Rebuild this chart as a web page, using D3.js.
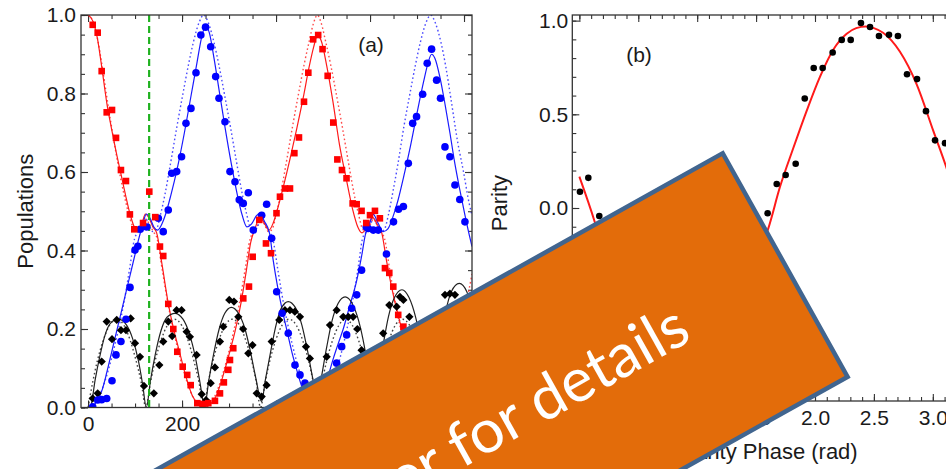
<!DOCTYPE html>
<html>
<head>
<meta charset="utf-8">
<script src="https://cdn.jsdelivr.net/npm/d3@7"></script>
<style>
  html, body { margin: 0; padding: 0; background: #ffffff; }
  svg { display: block; }
</style>
</head>
<body>
<svg id="chart" width="946" height="469"></svg>
<script>
// ---------------- Panel (a): populations vs time ----------------
const timeTicks = [0, 200, 400, 600, 800];
const popTicks = [0, 0.2, 0.4, 0.6, 0.8, 1.0];
const markerTime = 130;

// measured populations [time, value]
const redPts = [[9.9,0.975],[20.5,0.955],[29,0.857],[39.7,0.752],[51,0.758],[59.5,0.687],[70,0.605],[80.7,0.577],[89,0.492],[98.4,0.454],[117,0.47],[130.3,0.55],[143,0.485],[153,0.41],[160,0.386],[170.7,0.264],[181.4,0.2],[189.9,0.142],[201.4,0.104],[211,0.083],[218.4,0.057],[232.5,0.011],[243.9,0.009],[255.9,0.011],[270,0.017],[280.7,0.036],[289,0.064],[298.4,0.096],[302,0.121],[309,0.151],[330.3,0.278],[342.4,0.308],[350.3,0.384],[364.4,0.478],[378.6,0.418],[389.3,0.393],[401,0.495],[408.4,0.537],[419,0.558],[429.7,0.558],[439,0.648],[448.8,0.688],[459.5,0.779],[468.7,0.853],[479,0.938],[489.7,0.949],[499,0.913],[509.9,0.845],[521.8,0.726],[530.5,0.632],[540.3,0.605],[550,0.584],[563,0.52],[571.6,0.518],[582,0.501],[592,0.47],[600,0.49],[610.5,0.501],[621,0.482],[631.8,0.355],[641,0.343],[649.5,0.308],[660,0.236],[671,0.206],[681,0.17],[692,0.12],[702,0.08],[713,0.05],[723,0.02],[734,0.01],[744,0.005],[755,0.01],[765,0.03],[776,0.06],[786,0.09],[797,0.13],[807,0.17]];
const bluePts = [[9.9,0.002],[20.5,0.019],[29,0.02],[39.7,0.023],[51,0.068],[59.5,0.134],[70,0.168],[80.7,0.225],[89.3,0.306],[99.9,0.401],[106,0.411],[111,0.454],[124.7,0.46],[149.5,0.482],[160,0.448],[170.7,0.503],[178,0.597],[188.6,0.601],[199,0.639],[208.4,0.724],[219,0.762],[229.7,0.853],[240,0.949],[250,0.969],[261,0.919],[271.6,0.843],[278.6,0.788],[291.4,0.728],[302,0.601],[312.7,0.575],[321.8,0.529],[330.3,0.52],[341,0.547],[351.6,0.452],[369.5,0.49],[380,0.518],[390.7,0.431],[401.4,0.295],[413,0.24],[426,0.189],[440.3,0.108],[451,0.083],[461.6,0.062],[472,0.03],[483,0.01],[494,0.02],[505,0.05],[516,0.08],[529,0.113],[539.7,0.155],[550.3,0.185],[561,0.253],[571.6,0.287],[582,0.35],[592,0.46],[596,0.456],[607,0.452],[617.6,0.452],[635,0.391],[650,0.473],[660.6,0.505],[671,0.512],[681.5,0.622],[690.8,0.724],[699,0.741],[712,0.798],[721.7,0.877],[731,0.913],[741.7,0.834],[750,0.788],[759.5,0.664],[770,0.639],[780.7,0.567],[791,0.53],[802,0.473]];
const blackPts = [[9.9,0.023],[20.5,0.036],[29,0.117],[39.7,0.219],[51,0.174],[61,0.223],[70,0.197],[80.7,0.197],[90.7,0.227],[99.9,0.164],[110.5,0.129],[119,0.055],[140,0.036],[151.7,0.108],[160,0.168],[170.7,0.219],[179,0.182],[188.4,0.248],[199,0.248],[209.7,0.193],[216.8,0.18],[231,0.134],[241.8,0.034],[251,0.019],[261,0.062],[270,0.102],[280.7,0.168],[287.8,0.206],[300.5,0.274],[310.5,0.27],[319.7,0.231],[330,0.2],[341,0.138],[350,0.159],[358.8,0.036],[369.5,0.028],[380,0.057],[390.7,0.168],[406.9,0.223],[419,0.248],[429.6,0.248],[440,0.244],[451,0.231],[463.7,0.155],[472,0.125],[483,0.05],[495,0.06],[507.8,0.129],[514.8,0.21],[529,0.248],[543,0.231],[553.8,0.231],[564,0.231],[573,0.2],[582,0.146],[593,0.08],[605,0.03],[617,0.1],[628,0.189],[641,0.261],[656.7,0.257],[663.7,0.282],[671,0.274],[683.7,0.231],[695,0.17],[707,0.1],[719,0.04],[730,0.03],[740,0.1],[750,0.2],[759.5,0.287],[770,0.29],[780.7,0.287],[795,0.27],[806,0.2]];

// fitted model (solid)
const redFit = [[0,1.0],[10,0.985],[20,0.94],[30,0.86],[40,0.775],[50,0.71],[60,0.65],[70,0.595],[80,0.54],[90,0.49],[100,0.457],[108,0.452],[115,0.47],[122,0.493],[130,0.482],[138,0.46],[146,0.445],[158,0.36],[170,0.27],[182,0.2],[195,0.14],[208,0.08],[222,0.03],[235,0.008],[248,0.0],[260,0.008],[273,0.03],[287,0.08],[300,0.135],[313,0.195],[326,0.27],[337,0.35],[346,0.42],[355,0.455],[366,0.485],[376,0.468],[385,0.452],[394,0.47],[403,0.505],[415,0.56],[430,0.635],[444,0.71],[458,0.79],[470,0.865],[480,0.918],[488,0.948],[496,0.935],[508,0.87],[521,0.78],[535,0.67],[549,0.585],[563,0.505],[574,0.46],[583,0.445],[594,0.46],[606,0.484],[616,0.465],[625,0.445],[635,0.375],[648,0.295],[662,0.225],[676,0.16],[690,0.1],[705,0.05],[720,0.02],[735,0.004],[746,0.0],[758,0.008],[772,0.035],[787,0.085],[802,0.145],[817,0.21]];
const blueFit = [[0,0.0],[10,0.004],[20,0.018],[30,0.045],[40,0.09],[50,0.14],[60,0.19],[70,0.24],[80,0.29],[90,0.34],[100,0.39],[108,0.43],[116,0.465],[124,0.493],[132,0.482],[140,0.46],[148,0.452],[158,0.47],[167,0.5],[176,0.54],[190,0.61],[205,0.7],[220,0.8],[232,0.88],[242,0.945],[250,0.972],[258,0.955],[268,0.89],[280,0.8],[292,0.71],[305,0.62],[318,0.54],[328,0.49],[338,0.46],[348,0.468],[358,0.488],[366,0.495],[375,0.475],[386,0.445],[394,0.375],[403,0.31],[413,0.25],[423,0.197],[434,0.14],[444,0.096],[453,0.06],[462,0.03],[472,0.01],[480,0.003],[490,0.008],[500,0.03],[510,0.075],[522,0.125],[533,0.165],[543,0.2],[557,0.26],[571,0.32],[582,0.385],[590,0.44],[598,0.465],[607,0.492],[617,0.47],[628,0.448],[638,0.455],[650,0.49],[660,0.53],[672,0.59],[685,0.66],[700,0.75],[714,0.83],[724,0.88],[731,0.9],[738,0.89],[749,0.84],[760,0.77],[770,0.7],[780,0.625],[791,0.555],[802,0.49],[813,0.43],[817,0.41]];
const blackFit = [[0,0],[6,0.005],[15,0.07],[25,0.13],[35,0.18],[48,0.215],[65,0.225],[82,0.21],[95,0.175],[107,0.12],[116,0.06],[124,0.0],[133,0.07],[143,0.135],[155,0.195],[168,0.23],[185,0.24],[202,0.225],[215,0.19],[228,0.13],[238,0.065],[248,0.003],[257,0.07],[267,0.135],[279,0.2],[291,0.24],[305,0.255],[320,0.24],[334,0.2],[346,0.14],[357,0.075],[369,0.015],[378,0.075],[389,0.145],[400,0.21],[412,0.255],[426,0.27],[441,0.255],[455,0.21],[467,0.145],[478,0.075],[488,0.02],[497,0.08],[508,0.155],[519,0.22],[532,0.265],[547,0.282],[562,0.265],[576,0.22],[588,0.155],[598,0.08],[608,0.025],[617,0.085],[628,0.16],[639,0.23],[652,0.28],[668,0.3],[683,0.28],[697,0.23],[709,0.16],[719,0.085],[729,0.03],[738,0.09],[749,0.17],[760,0.24],[773,0.295],[790,0.316],[806,0.295],[817,0.25]];

// ideal model (dotted)
const redIdeal = [[0,1.0],[10,0.985],[20,0.94],[30,0.87],[40,0.79],[50,0.715],[60,0.645],[70,0.58],[80,0.525],[90,0.478],[100,0.452],[108,0.448],[115,0.462],[123,0.48],[131,0.465],[139,0.448],[147,0.43],[158,0.35],[170,0.265],[182,0.195],[195,0.13],[208,0.075],[221,0.032],[234,0.008],[246,0.0],[258,0.008],[271,0.032],[284,0.075],[297,0.13],[310,0.195],[322,0.265],[334,0.35],[345,0.43],[353,0.448],[361,0.465],[369,0.48],[377,0.462],[384,0.448],[392,0.455],[400,0.49],[410,0.545],[422,0.625],[435,0.715],[448,0.8],[460,0.875],[470,0.93],[480,0.98],[488,1.0],[496,0.98],[506,0.93],[516,0.875],[528,0.8],[541,0.715],[554,0.625],[566,0.545],[576,0.49],[584,0.455],[592,0.448],[599,0.462],[607,0.48],[615,0.465],[623,0.448],[631,0.43],[642,0.35],[654,0.265],[666,0.195],[679,0.13],[692,0.075],[705,0.032],[718,0.008],[729,0.0],[741,0.008],[754,0.032],[767,0.075],[780,0.13],[793,0.195],[805,0.265],[817,0.34]];
const blueIdeal = [[0,0.0],[12,0.008],[25,0.032],[38,0.075],[51,0.13],[64,0.195],[76,0.265],[88,0.35],[99,0.43],[107,0.448],[115,0.465],[123,0.48],[131,0.462],[138,0.448],[146,0.455],[154,0.49],[164,0.545],[176,0.625],[189,0.715],[202,0.8],[214,0.875],[224,0.93],[236,0.98],[246,1.0],[256,0.98],[268,0.93],[278,0.875],[290,0.8],[303,0.715],[316,0.625],[328,0.545],[338,0.49],[346,0.455],[354,0.448],[361,0.462],[369,0.48],[377,0.465],[385,0.448],[393,0.43],[404,0.35],[416,0.265],[428,0.195],[441,0.13],[454,0.075],[467,0.032],[478,0.008],[488,0.0],[499,0.008],[511,0.032],[524,0.075],[537,0.13],[550,0.195],[562,0.265],[574,0.35],[584,0.43],[592,0.448],[600,0.465],[608,0.48],[616,0.462],[623,0.448],[631,0.455],[639,0.49],[648,0.545],[660,0.625],[672,0.715],[685,0.8],[697,0.875],[707,0.93],[719,0.98],[729,1.0],[739,0.98],[751,0.93],[761,0.87],[773,0.78],[786,0.68],[799,0.6],[811,0.52],[817,0.49]];
const blackIdeal = [[0,0],[10,0.065],[20,0.12],[32,0.17],[46,0.21],[61,0.225],[76,0.21],[90,0.17],[102,0.12],[113,0.065],[123,0],[133,0.065],[143,0.12],[155,0.17],[169,0.21],[184,0.225],[199,0.21],[213,0.17],[225,0.12],[236,0.065],[246,0],[256,0.065],[266,0.12],[278,0.17],[292,0.21],[307,0.225],[322,0.21],[336,0.17],[348,0.12],[358,0.065],[367,0],[377,0.065],[387,0.12],[399,0.17],[413,0.21],[428,0.225],[443,0.21],[457,0.17],[469,0.12],[479,0.065],[488,0],[498,0.065],[508,0.12],[520,0.17],[534,0.21],[548,0.225],[562,0.21],[576,0.17],[588,0.12],[598,0.065],[608,0],[618,0.065],[628,0.12],[640,0.17],[654,0.21],[669,0.225],[684,0.21],[698,0.17],[710,0.12],[720,0.065],[729,0],[739,0.065],[749,0.12],[761,0.17],[775,0.21],[790,0.225],[805,0.21],[817,0.175]];

// ---------------- Panel (b): parity vs phase ----------------
const phaseTicks = [0, 0.5, 1.0, 1.5, 2.0, 2.5, 3.0];
const parityTicks = [-1.0, -0.5, 0.0, 0.5, 1.0];
const parityPts = [[0.005,0.087],[0.076,0.161],[0.169,-0.043],[0.247,-0.3],[0.326,-0.47],[0.404,-0.58],[0.483,-0.72],[0.561,-0.83],[0.64,-0.9],[0.718,-0.93],[0.797,-0.99],[0.875,-0.95],[0.954,-0.97],[1.032,-0.9],[1.111,-0.83],[1.189,-0.73],[1.268,-0.6],[1.346,-0.47],[1.425,-0.33],[1.503,-0.2],[1.598,-0.028],[1.675,0.128],[1.751,0.176],[1.836,0.236],[1.913,0.584],[1.989,0.747],[2.065,0.747],[2.15,0.83],[2.227,0.897],[2.303,0.897],[2.39,0.987],[2.467,0.966],[2.543,0.918],[2.628,0.924],[2.704,0.918],[2.781,0.714],[2.866,0.688],[2.942,0.517],[3.019,0.361],[3.104,0.346]];
const parityFit = [[0,0.167],[0.13,-0.073],[0.3,-0.45],[0.5,-0.78],[0.7,-0.94],[0.87,-0.968],[1.05,-0.9],[1.25,-0.68],[1.45,-0.33],[1.603,-0.11],[1.703,0.113],[1.816,0.32],[1.93,0.52],[2.042,0.7],[2.155,0.845],[2.269,0.93],[2.35,0.96],[2.43,0.968],[2.5,0.96],[2.578,0.935],[2.72,0.835],[2.863,0.66],[3.005,0.41],[3.113,0.22],[3.2,0.05]];

const bannerText = "See paper for details";

// ---------------- drawing ----------------
const svg = d3.select("#chart");
const FONT = "'Liberation Sans', Arial, Helvetica, sans-serif";
const INK = "#1a1a1a";

const xA = d3.scaleLinear().domain([-15, 817]).range([81, 472]);
const yA = d3.scaleLinear().domain([0, 1]).range([407.5, 15]);
const xB = d3.scaleLinear().domain([-0.06, 3.28]).range([572.3, 965.8]);
const yB = d3.scaleLinear().domain([-1.03, 1.03]).range([401, 15]);

const defs = svg.append("defs");
defs.append("clipPath").attr("id", "clipA").append("rect")
  .attr("x", xA.range()[0]).attr("y", yA.range()[1])
  .attr("width", xA.range()[1] - xA.range()[0]).attr("height", yA.range()[0] - yA.range()[1]);
defs.append("clipPath").attr("id", "clipB").append("rect")
  .attr("x", xB.range()[0]).attr("y", yB.range()[1])
  .attr("width", xB.range()[1] - xB.range()[0]).attr("height", yB.range()[0] - yB.range()[1]);

function drawAxis(orient, scale, pos, major, minor, fmt, pad) {
  const make = { bottom: d3.axisBottom, top: d3.axisTop, left: d3.axisLeft, right: d3.axisRight }[orient];
  const tr = (orient === "bottom" || orient === "top") ? `translate(0,${pos})` : `translate(${pos},0)`;
  const gMin = svg.append("g").attr("transform", tr)
    .call(make(scale).tickValues(minor).tickSizeInner(-4).tickSizeOuter(0).tickFormat(""));
  const gMaj = svg.append("g").attr("transform", tr)
    .call(make(scale).tickValues(major).tickSizeInner(-7).tickSizeOuter(0)
      .tickPadding(pad || 0).tickFormat(fmt ? fmt : ""));
  [gMin, gMaj].forEach(g => {
    g.select(".domain").remove();
    g.selectAll("line").attr("stroke", "#333").attr("stroke-width", 1.1);
    g.selectAll("text").attr("font-family", FONT).attr("font-size", 21).attr("fill", INK);
  });
}

function frame(xs, ys) {
  svg.append("rect")
    .attr("x", xs.range()[0]).attr("y", ys.range()[1])
    .attr("width", xs.range()[1] - xs.range()[0]).attr("height", ys.range()[0] - ys.range()[1])
    .attr("fill", "none").attr("stroke", "#333").attr("stroke-width", 1.3);
}

const fmt1 = d3.format(".1f");

// ---- panel (a) ----
const minorTime = d3.range(0, 801, 50);
const minorPop = d3.range(0, 1.0001, 0.05);
drawAxis("bottom", xA, yA.range()[0], timeTicks, minorTime, d3.format("d"), 9);
drawAxis("top", xA, yA.range()[1], timeTicks, minorTime, null, 0);
drawAxis("left", yA, xA.range()[0], popTicks, minorPop, fmt1, 5);
drawAxis("right", yA, xA.range()[1], popTicks, minorPop, null, 0);

const plotA = svg.append("g").attr("clip-path", "url(#clipA)");
const lineA = d3.line().x(d => xA(d[0])).y(d => yA(d[1])).curve(d3.curveMonotoneX);

const curves = [
  { data: redIdeal, color: "#ff2a2a", dotted: true },
  { data: blueIdeal, color: "#2a2aff", dotted: true },
  { data: blackIdeal, color: "#222", dotted: true },
  { data: redFit, color: "#ff1a1a", dotted: false },
  { data: blueFit, color: "#1a1aff", dotted: false },
  { data: blackFit, color: "#222", dotted: false }
];
curves.forEach(c => {
  plotA.append("path").datum(c.data)
    .attr("d", lineA).attr("fill", "none")
    .attr("stroke", c.color)
    .attr("stroke-width", c.dotted ? 1.4 : 1.2)
    .attr("stroke-opacity", c.dotted ? 0.85 : 1)
    .attr("stroke-dasharray", c.dotted ? "1.6,2.6" : null);
});

// marker line
plotA.append("line")
  .attr("x1", xA(markerTime)).attr("x2", xA(markerTime))
  .attr("y1", yA(1)).attr("y2", yA(0))
  .attr("stroke", "#1fb11f").attr("stroke-width", 2.2).attr("stroke-dasharray", "7,4");

plotA.append("g").selectAll("path").data(blackPts).join("path")
  .attr("d", d3.symbol(d3.symbolSquare, 34))
  .attr("transform", d => `translate(${xA(d[0])},${yA(d[1])}) rotate(45)`)
  .attr("fill", "#000");
plotA.append("g").selectAll("circle").data(bluePts).join("circle")
  .attr("cx", d => xA(d[0])).attr("cy", d => yA(d[1])).attr("r", 3.8)
  .attr("fill", "#0000ff");
plotA.append("g").selectAll("rect").data(redPts).join("rect")
  .attr("x", d => xA(d[0]) - 3.3).attr("y", d => yA(d[1]) - 3.3)
  .attr("width", 6.6).attr("height", 6.6).attr("fill", "#ff0000");

frame(xA, yA);

svg.append("text").attr("x", 371).attr("y", 52).attr("text-anchor", "middle")
  .attr("font-family", FONT).attr("font-size", 21).attr("fill", INK).text("(a)");
svg.append("text")
  .attr("transform", `translate(33,${(yA.range()[0] + yA.range()[1]) / 2}) rotate(-90)`)
  .attr("text-anchor", "middle").attr("font-family", FONT).attr("font-size", 22)
  .attr("fill", INK).text("Populations");

// ---- panel (b) ----
const minorPhase = d3.range(0, 3.2001, 0.1);
const minorParity = d3.range(-1.0, 1.0001, 0.1);
drawAxis("bottom", xB, yB.range()[0], phaseTicks, minorPhase, fmt1, 9);
drawAxis("top", xB, yB.range()[1], phaseTicks, minorPhase, null, 0);
drawAxis("left", yB, xB.range()[0], parityTicks, minorParity, fmt1, 4);

const plotB = svg.append("g").attr("clip-path", "url(#clipB)");
const lineB = d3.line().x(d => xB(d[0])).y(d => yB(d[1])).curve(d3.curveMonotoneX);
plotB.append("path").datum(parityFit).attr("d", lineB)
  .attr("fill", "none").attr("stroke", "#ff1a1a").attr("stroke-width", 2);
plotB.append("g").selectAll("circle").data(parityPts).join("circle")
  .attr("cx", d => xB(d[0])).attr("cy", d => yB(d[1])).attr("r", 3.3).attr("fill", "#000");

frame(xB, yB);

svg.append("text").attr("x", 639).attr("y", 62).attr("text-anchor", "middle")
  .attr("font-family", FONT).attr("font-size", 21).attr("fill", INK).text("(b)");
svg.append("text")
  .attr("transform", `translate(507,203) rotate(-90)`)
  .attr("text-anchor", "middle").attr("font-family", FONT).attr("font-size", 22)
  .attr("fill", INK).text("Parity");
svg.append("text")
  .attr("x", (xB.range()[0] + xB.range()[1]) / 2).attr("y", 459)
  .attr("text-anchor", "middle").attr("font-family", FONT).attr("font-size", 22)
  .attr("fill", INK).text("Parity Phase (rad)");

// ---- banner ----
const banner = svg.append("g").attr("transform", "translate(722.7,153.3) rotate(-29.2)");
banner.append("rect")
  .attr("x", -1100).attr("y", 0).attr("width", 1100).attr("height", 256)
  .attr("fill", "#e36c0a").attr("stroke", "#41658f").attr("stroke-width", 4.5)
  .attr("stroke-linejoin", "miter");
banner.append("text")
  .attr("x", -116).attr("y", 148).attr("text-anchor", "end")
  .attr("font-family", "Lato, 'Open Sans', sans-serif").attr("font-size", 61)
  .attr("fill", "#ffffff").text(bannerText);
</script>
</body>
</html>
